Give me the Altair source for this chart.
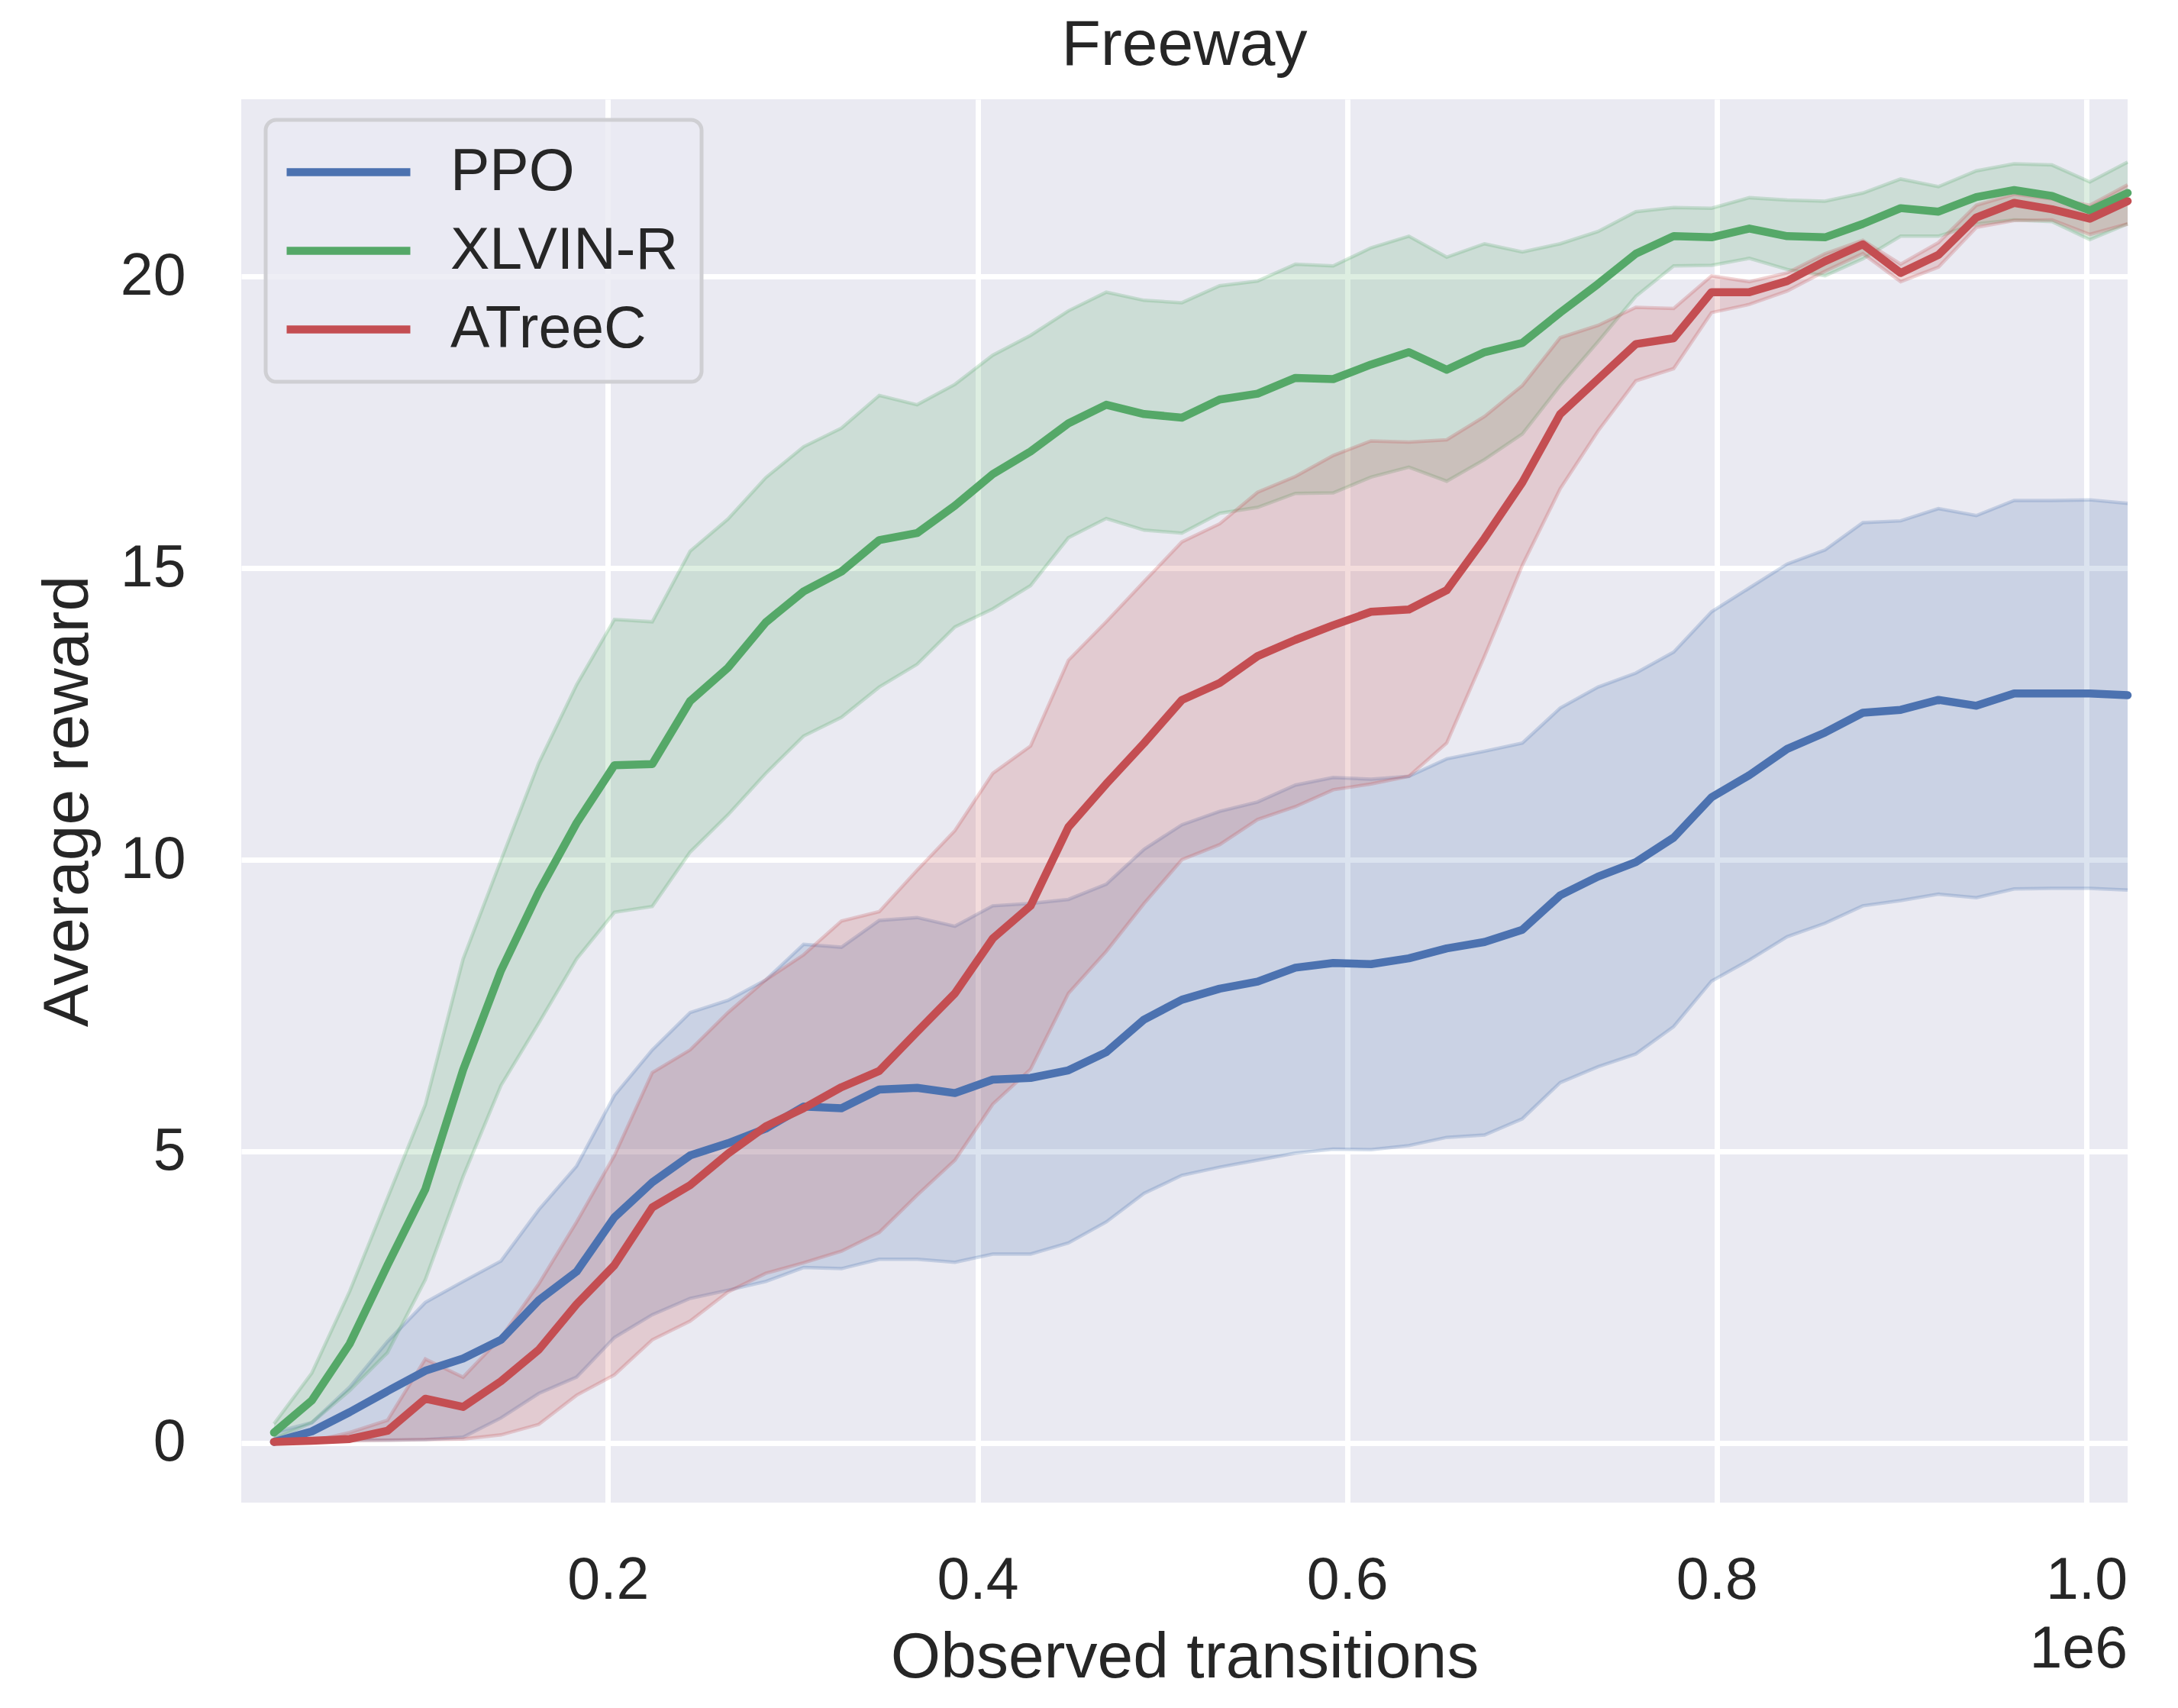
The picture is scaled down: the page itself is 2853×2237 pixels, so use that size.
import altair as alt
import pandas as pd

# Observed transitions (sample points)
steps = [19300, 39770, 60240, 80710, 101180, 121650, 142120, 162590, 183060, 203530,
         224000, 244470, 264940, 285410, 305880, 326350, 346820, 367290, 387760, 408230,
         428700, 449170, 469640, 490110, 510580, 531050, 551520, 571990, 592460, 612930,
         633400, 653870, 674340, 694810, 715280, 735750, 756220, 776690, 797160, 817630,
         838100, 858570, 879040, 899510, 919980, 940450, 960920, 981390, 1001860, 1022330]

methods = ["PPO", "XLVIN-R", "ATreeC"]
colors = ["#4C72B0", "#55A868", "#C44E52"]

ppo_mean = [0.02, 0.2, 0.53, 0.89, 1.24, 1.45, 1.77, 2.45, 2.94, 3.87,
            4.47, 4.93, 5.14, 5.39, 5.77, 5.74, 6.06, 6.09, 6.0, 6.23,
            6.26, 6.39, 6.7, 7.26, 7.6, 7.79, 7.91, 8.15, 8.23, 8.21,
            8.31, 8.48, 8.59, 8.8, 9.39, 9.71, 9.96, 10.38, 11.07, 11.45,
            11.9, 12.18, 12.52, 12.57, 12.74, 12.64, 12.85, 12.85, 12.85, 12.82]
ppo_hi = [0.18, 0.35, 0.96, 1.74, 2.41, 2.77, 3.12, 4.0, 4.75, 5.96,
          6.74, 7.38, 7.59, 7.94, 8.55, 8.5, 8.96, 9.01, 8.86, 9.21,
          9.25, 9.32, 9.58, 10.18, 10.6, 10.83, 10.99, 11.28, 11.41, 11.38,
          11.43, 11.73, 11.86, 12.0, 12.6, 12.96, 13.2, 13.56, 14.25, 14.66,
          15.07, 15.31, 15.78, 15.81, 16.02, 15.9, 16.16, 16.16, 16.17, 16.11]
ppo_lo = [0.02, 0.04, 0.05, 0.05, 0.06, 0.1, 0.43, 0.85, 1.13, 1.81,
          2.2, 2.48, 2.62, 2.77, 3.01, 2.99, 3.15, 3.15, 3.1, 3.24,
          3.24, 3.43, 3.79, 4.28, 4.59, 4.73, 4.85, 4.97, 5.04, 5.03,
          5.1, 5.24, 5.28, 5.56, 6.18, 6.45, 6.67, 7.14, 7.92, 8.28,
          8.68, 8.91, 9.21, 9.3, 9.41, 9.35, 9.5, 9.51, 9.51, 9.48]

xlvin_mean = [0.18, 0.73, 1.7, 3.05, 4.35, 6.4, 8.1, 9.45, 10.63, 11.62,
              11.64, 12.72, 13.29, 14.07, 14.6, 14.94, 15.48, 15.6, 16.07, 16.61,
              17.0, 17.48, 17.8, 17.64, 17.58, 17.89, 17.99, 18.26, 18.24, 18.49,
              18.7, 18.4, 18.7, 18.86, 19.38, 19.87, 20.39, 20.69, 20.67, 20.82,
              20.69, 20.67, 20.9, 21.17, 21.11, 21.36, 21.48, 21.38, 21.13, 21.43]
xlvin_hi = [0.33, 1.2, 2.6, 4.2, 5.8, 8.3, 9.99, 11.66, 13.0, 14.12,
            14.08, 15.29, 15.84, 16.55, 17.08, 17.4, 17.96, 17.8, 18.15, 18.65,
            18.99, 19.41, 19.73, 19.59, 19.55, 19.84, 19.92, 20.21, 20.18, 20.49,
            20.69, 20.33, 20.56, 20.42, 20.56, 20.77, 21.11, 21.18, 21.17, 21.35,
            21.31, 21.29, 21.43, 21.67, 21.54, 21.81, 21.93, 21.91, 21.62, 21.96]
xlvin_lo = [0.07, 0.35, 0.9, 1.55, 2.8, 4.57, 6.13, 7.2, 8.3, 9.1,
            9.2, 10.13, 10.77, 11.48, 12.12, 12.44, 12.96, 13.35, 13.99, 14.3,
            14.7, 15.52, 15.85, 15.65, 15.6, 15.94, 16.04, 16.28, 16.29, 16.56,
            16.73, 16.49, 16.86, 17.3, 18.13, 18.88, 19.66, 20.18, 20.19, 20.31,
            20.12, 20.01, 20.3, 20.69, 20.69, 20.9, 20.97, 20.94, 20.63, 20.9]

atreec_mean = [0.02, 0.04, 0.07, 0.21, 0.76, 0.62, 1.06, 1.6, 2.38, 3.05,
               4.04, 4.42, 4.96, 5.43, 5.74, 6.1, 6.38, 7.05, 7.71, 8.65,
               9.21, 10.56, 11.3, 12.0, 12.74, 13.03, 13.49, 13.77, 14.02, 14.25,
               14.29, 14.62, 15.51, 16.47, 17.64, 18.24, 18.84, 18.94, 19.73, 19.73,
               19.92, 20.26, 20.55, 20.06, 20.37, 21.01, 21.26, 21.15, 20.99, 21.29]
atreec_hi = [0.02, 0.03, 0.18, 0.39, 1.44, 1.13, 1.81, 2.73, 3.79, 4.93,
             6.35, 6.74, 7.38, 7.94, 8.37, 8.95, 9.11, 9.82, 10.5, 11.48,
             11.95, 13.42, 14.08, 14.77, 15.45, 15.76, 16.3, 16.57, 16.93, 17.18,
             17.16, 17.2, 17.6, 18.13, 18.95, 19.16, 19.47, 19.45, 20.01, 19.91,
             20.06, 20.39, 20.62, 20.21, 20.58, 21.22, 21.41, 21.33, 21.22, 21.57]
atreec_lo = [0.0, 0.02, 0.04, 0.05, 0.06, 0.07, 0.14, 0.32, 0.82, 1.17,
             1.77, 2.09, 2.59, 2.91, 3.09, 3.29, 3.61, 4.25, 4.85, 5.81,
             6.41, 7.71, 8.43, 9.25, 10.0, 10.26, 10.69, 10.91, 11.2, 11.3,
             11.43, 12.0, 13.49, 15.05, 16.36, 17.35, 18.21, 18.42, 19.38, 19.52,
             19.75, 20.09, 20.39, 19.91, 20.16, 20.84, 20.96, 20.97, 20.72, 20.9]

x_ticks = [200000, 400000, 600000, 800000, 1000000]
y_ticks = [0, 5, 10, 15, 20]

series = {
    "PPO": (ppo_mean, ppo_lo, ppo_hi),
    "XLVIN-R": (xlvin_mean, xlvin_lo, xlvin_hi),
    "ATreeC": (atreec_mean, atreec_lo, atreec_hi),
}
rows = []
for name, (m, lo, hi) in series.items():
    for i, s in enumerate(steps):
        rows.append({"steps": s, "method": name, "mean": m[i], "lo": lo[i], "hi": hi[i]})
df = pd.DataFrame(rows)

FONT = "Liberation Sans"
TXT = "#262626"
W, H = 2471, 1838

xscale = alt.Scale(domain=[1580, 1022310], nice=False, zero=False)
yscale = alt.Scale(domain=[-1.021, 23.037], nice=False, zero=False)

xaxis = alt.Axis(values=x_ticks, labelExpr="format(datum.value/1e6, '.1f')",
                 title="Observed transitions", grid=True, gridColor="white", gridWidth=7,
                 domain=False, ticks=False, tickSize=0, labelFontSize=77, labelFont=FONT,
                 labelColor=TXT, labelPadding=64, labelFlush=False, labelOverlap=False,
                 titleFontSize=84, titleFont=FONT, titleColor=TXT, titleFontWeight="normal",
                 titleX=W / 2, titleY=228, titleBaseline="alphabetic", titleAlign="center")
yaxis = alt.Axis(values=y_ticks, format="d", title="Average reward", grid=True,
                 gridColor="white", gridWidth=7, domain=False, ticks=False, tickSize=0,
                 labelFontSize=77, labelFont=FONT, labelColor=TXT, labelPadding=73,
                 labelOverlap=False, titleFontSize=84, titleFont=FONT, titleColor=TXT,
                 titleFontWeight="normal", titleAngle=270, titleX=-202, titleY=H / 2,
                 titleBaseline="alphabetic", titleAlign="center")

base = alt.Chart(df)
x = alt.X("steps:Q", scale=xscale, axis=xaxis)

layers = []
# confidence bands, one per method, with constant colours (no extra legend)
for name, col in zip(methods, colors):
    sub = base.transform_filter(alt.datum.method == name)
    layers.append(sub.mark_area(color=col, opacity=0.2).encode(
        x=x, y=alt.Y("lo:Q", scale=yscale, axis=yaxis), y2="hi:Q"))
    layers.append(sub.mark_line(color=col, opacity=0.25, strokeWidth=4.5).encode(
        x=x, y=alt.Y("lo:Q", scale=yscale, axis=yaxis)))
    layers.append(sub.mark_line(color=col, opacity=0.25, strokeWidth=4.5).encode(
        x=x, y=alt.Y("hi:Q", scale=yscale, axis=yaxis)))

lines = base.mark_line(strokeWidth=10.5, strokeCap="round", strokeJoin="round").encode(
    x=x,
    y=alt.Y("mean:Q", scale=yscale, axis=yaxis),
    color=alt.Color("method:N", scale=alt.Scale(domain=methods, range=colors),
                    legend=alt.Legend(
                        orient="none", legendX=32, legendY=27,
                        symbolType="M-4,0H4", symbolSize=1640, symbolStrokeWidth=10.5,
                        symbolOffset=40, labelOffset=95, rowPadding=25, padding=30,
                        labelFontSize=77, labelFont=FONT, labelColor=TXT, labelLimit=1000,
                        strokeColor="#cfcfd3", fillColor="rgba(234,234,242,0.8)",
                        cornerRadius=14,
                    )),
)
layers.append(lines)

offset_txt = alt.Chart(pd.DataFrame({"t": ["1e6"]})).mark_text(
    align="right", baseline="alphabetic", fontSize=77, font=FONT, color=TXT
).encode(text="t:N", x=alt.value(W), y=alt.value(2054))
layers.append(offset_txt)

chart = alt.layer(*layers).properties(
    width=W, height=H,
    title=alt.TitleParams(text="Freeway", fontSize=84, font=FONT, fontWeight="normal",
                          color=TXT, anchor="middle", frame="group", offset=47,
                          baseline="alphabetic", dy=86),
    autosize=alt.AutoSizeParams(type="none"),
    padding={"left": 308, "top": 122, "right": 58, "bottom": 261},
).configure(background="white").configure_view(
    fill="#EAEAF2", stroke=None
).configure_legend(strokeWidth=5, title=None)

chart.save("out.html", embed_options={"renderer": "svg", "actions": False})
